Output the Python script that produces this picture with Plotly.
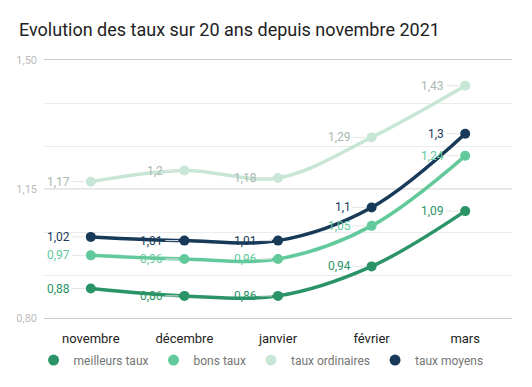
import plotly.graph_objects as go

months = ["novembre", "décembre", "janvier", "février", "mars"]
meilleurs = [0.88, 0.86, 0.86, 0.94, 1.09]
bons = [0.97, 0.96, 0.96, 1.05, 1.24]
ordinaires = [1.17, 1.2, 1.18, 1.29, 1.43]
moyens = [1.02, 1.01, 1.01, 1.1, 1.3]

y_grid = [0.8 + i * 0.7 / 6 for i in range(7)]
y_labels = ["0,80", "", "", "1,15", "", "", "1,50"]

series = [
    ("meilleurs taux", meilleurs, "#2b9466", "#2b9466"),
    ("bons taux", bons, "#62c99b", "#62c99b"),
    ("taux ordinaires", ordinaires, "#c8e6d6", "#a9b8b0"),
    ("taux moyens", moyens, "#183a59", "#183a59"),
]

fig = go.Figure()
annotations = []
for name, vals, col, lab in series:
    fig.add_trace(go.Scatter(
        x=months, y=vals, mode="lines+markers", name=name,
        line=dict(color=col, width=3.5, shape="spline", smoothing=1),
        marker=dict(color=col, size=10),
        showlegend=False, hoverinfo="skip",
    ))
    for m, v in zip(months, vals):
        annotations.append(dict(
            x=m, y=v, xref="x", yref="y",
            text=f"{v:g}".replace(".", ","),
            showarrow=True, arrowhead=0, arrowwidth=1, arrowcolor="#e3e3e3",
            ax=-19, ay=0, standoff=6, xanchor="right",
            font=dict(family="Roboto", size=12, color=lab),
        ))

for name, vals, col, lab in series:
    fig.add_trace(go.Scatter(
        x=[None], y=[None], mode="markers", name=name,
        marker=dict(color=col, size=11),
    ))

fig.add_hline(y=y_grid[3], line_color="#cccccc", line_width=1, layer="below")

fig.update_layout(
    width=524, height=379,
    margin=dict(l=36, r=20, t=52, b=69, autoexpand=False),
    paper_bgcolor="white", plot_bgcolor="white",
    separators=", ",
    font=dict(family="Roboto", color="#222222"),
    title=dict(text="Evolution des taux sur 20 ans depuis novembre 2021",
               xref="container", x=0.021, xanchor="left",
               yref="container", y=0.942, yanchor="middle",
               font=dict(family="Roboto", size=18, color="#222222")),
    annotations=annotations,
    showlegend=True,
    legend=dict(orientation="h", xref="container", x=0.483, xanchor="center",
                y=-0.163, yanchor="middle",
                font=dict(family="Roboto", size=12, color="#757575"),
                itemwidth=30, tracegroupgap=0),
)
fig.update_xaxes(type="category", range=[-0.5, 4.5], showgrid=False, zeroline=False,
                 showline=True, mirror=True, linecolor="#cccccc", linewidth=1,
                 ticks="", ticklabelstandoff=8,
                 tickfont=dict(family="Roboto", size=13, color="#222222"))
fig.update_yaxes(range=[0.8, 1.5], tickvals=y_grid, ticktext=y_labels,
                 showgrid=True, gridcolor="#ebebeb", gridwidth=1, zeroline=False,
                 showline=False,
                 tickfont=dict(family="Roboto", size=11, color="#bbbbbb"),
                 ticklabelstandoff=6)

fig.write_html("out.html")
